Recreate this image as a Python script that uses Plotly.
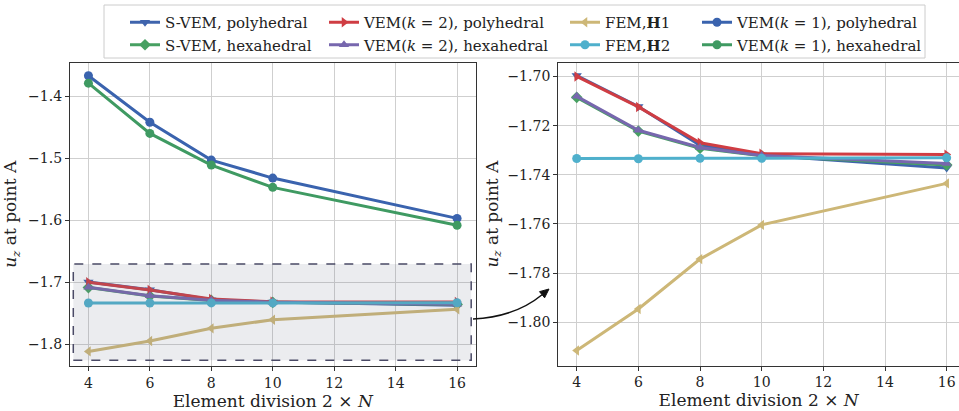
import math
import plotly.graph_objects as go

W, H = 959, 411

x_div = [4, 6, 8, 10, 16]

svem_poly = [-1.6996, -1.7122, -1.7280, -1.7320, -1.7372]
svem_hex = [-1.7085, -1.7222, -1.7292, -1.7323, -1.7360]
vem2_poly = [-1.7000, -1.7124, -1.7270, -1.7314, -1.7318]
vem2_hex = [-1.7081, -1.7219, -1.7289, -1.7322, -1.7354]
fem_h1 = [-1.8115, -1.7946, -1.7743, -1.7604, -1.7435]
fem_h2 = [-1.7334, -1.7335, -1.7333, -1.7333, -1.7331]
vem1_poly = [-1.367, -1.442, -1.503, -1.532, -1.597]
vem1_hex = [-1.379, -1.460, -1.511, -1.547, -1.608]

left_yticks = [-1.4, -1.5, -1.6, -1.7, -1.8]
left_yticktext = ["−1.4", "−1.5", "−1.6", "−1.7", "−1.8"]
right_yticks = [-1.70, -1.72, -1.74, -1.76, -1.78, -1.80]
right_yticktext = ["−1.70", "−1.72", "−1.74", "−1.76", "−1.78", "−1.80"]
xticks = [4, 6, 8, 10, 12, 14, 16]

FONT = "'DejaVu Serif', 'Liberation Serif', serif"

series = [
    # name, values, color, symbol, legend
    ("S-VEM, polyhedral", svem_poly, "#3f64ad", "triangle-down", "legend"),
    ("S-VEM, hexahedral", svem_hex, "#47a062", "diamond", "legend"),
    ("VEM(<i>k</i> = 2), polyhedral", vem2_poly, "#cf3d43", "triangle-right", "legend2"),
    ("VEM(<i>k</i> = 2), hexahedral", vem2_hex, "#7767ae", "triangle-up", "legend2"),
    ("FEM,<b>H</b>1", fem_h1, "#cdb777", "triangle-left", "legend3"),
    ("FEM,<b>H</b>2", fem_h2, "#4fb0cc", "circle", "legend3"),
    ("VEM(<i>k</i> = 1), polyhedral", vem1_poly, "#3a63ae", "circle", "legend4"),
    ("VEM(<i>k</i> = 1), hexahedral", vem1_hex, "#3f9a62", "circle", "legend4"),
]

fig = go.Figure()
for name, vals, col, sym, lg in series:
    for ax, show in (("", True), ("2", False)):
        fig.add_trace(go.Scatter(
            x=x_div, y=vals, mode="lines+markers", name=name,
            line=dict(color=col, width=3),
            marker=dict(symbol=sym, size=9, color=col),
            xaxis="x" + ax, yaxis="y" + ax,
            showlegend=show, legend=lg,
        ))

def px(x):
    return x / W

def py(y):
    return 1 - y / H

TXT = "#222222"
axis_common = dict(
    showgrid=True, gridcolor="#cfcfcf", gridwidth=1,
    showline=True, linecolor="#333333", linewidth=1.2,
    ticks="outside", ticklen=4, tickcolor="#333333",
    tickfont=dict(family=FONT, size=14, color=TXT),
    zeroline=False, automargin=False,
)

def ytitle(standoff):
    return dict(text="<i>u<sub>z</sub></i> at point A", font=dict(family=FONT, size=17, color=TXT), standoff=standoff)

xtitle = dict(text="Element division 2 × <i>N</i>", font=dict(family=FONT, size=17, color=TXT), standoff=2)

fig.update_layout(
    width=W, height=H,
    margin=dict(l=0, r=0, t=0, b=0),
    paper_bgcolor="white", plot_bgcolor="white",
    font=dict(family=FONT, color=TXT),
    xaxis=dict(domain=[px(70), px(475.5)], range=[3.4, 16.6], tickvals=xticks,
               mirror=True, title=xtitle, anchor="y", **axis_common),
    yaxis=dict(domain=[py(366), py(62.7)], range=[-1.835, -1.346], tickvals=left_yticks,
               ticktext=left_yticktext,
               mirror=True, title=ytitle(8), anchor="x", **axis_common),
    xaxis2=dict(domain=[px(558.2), 1.0], range=[3.4, 16.4], tickvals=xticks,
                mirror=True, title=xtitle, anchor="y2", **axis_common),
    yaxis2=dict(domain=[py(365.5), py(62.7)], range=[-1.8176, -1.6944], tickvals=right_yticks,
                ticktext=right_yticktext,
                mirror=False, title=ytitle(4), anchor="x2", **axis_common),
    showlegend=True,
)

leg_common = dict(orientation="v", bgcolor="rgba(0,0,0,0)", borderwidth=0,
                  font=dict(family=FONT, size=15, color=TXT),
                  yanchor="top", y=py(6), xanchor="left", tracegroupgap=0,
                  itemwidth=30)
fig.update_layout(
    legend=dict(x=px(125), **leg_common),
    legend2=dict(x=px(324), **leg_common),
    legend3=dict(x=px(565), **leg_common),
    legend4=dict(x=px(697), **leg_common),
)

# arrowhead geometry (pixel space)
tip = (549.0, 289.0)
ctrl = (515.0, 317.0)
dx, dy = tip[0] - ctrl[0], tip[1] - ctrl[1]
n = math.hypot(dx, dy)
ux, uy = dx / n, dy / n
hl, hw = 9.0, 4.0
bx, by = tip[0] - hl * ux, tip[1] - hl * uy
p1 = (bx + hw * (-uy), by + hw * ux)
p2 = (bx - hw * (-uy), by - hw * ux)

shapes = [
    # legend frame
    dict(type="rect", xref="paper", yref="paper", x0=px(104), x1=px(925), y0=py(58), y1=py(5),
         line=dict(color="#cccccc", width=1), fillcolor="white", layer="below"),
    # zoom region box
    dict(type="rect", xref="x", yref="y", x0=3.507, x1=16.46, y0=-1.8257, y1=-1.6706,
         line=dict(color="#4a4a66", width=1.5, dash="dash"),
         fillcolor="rgba(110,120,140,0.14)", layer="above"),
    # curved arrow
    dict(type="path", xref="paper", yref="paper",
         path=f"M {px(473)},{py(319)} Q {px(ctrl[0])},{py(ctrl[1])} {px(bx)},{py(by)}",
         line=dict(color="#111111", width=1.5)),
    dict(type="path", xref="paper", yref="paper",
         path=f"M {px(tip[0])},{py(tip[1])} L {px(p1[0])},{py(p1[1])} L {px(p2[0])},{py(p2[1])} Z",
         line=dict(color="#111111", width=1), fillcolor="#111111"),
]
fig.update_layout(shapes=shapes)

fig.write_html("out.html")
